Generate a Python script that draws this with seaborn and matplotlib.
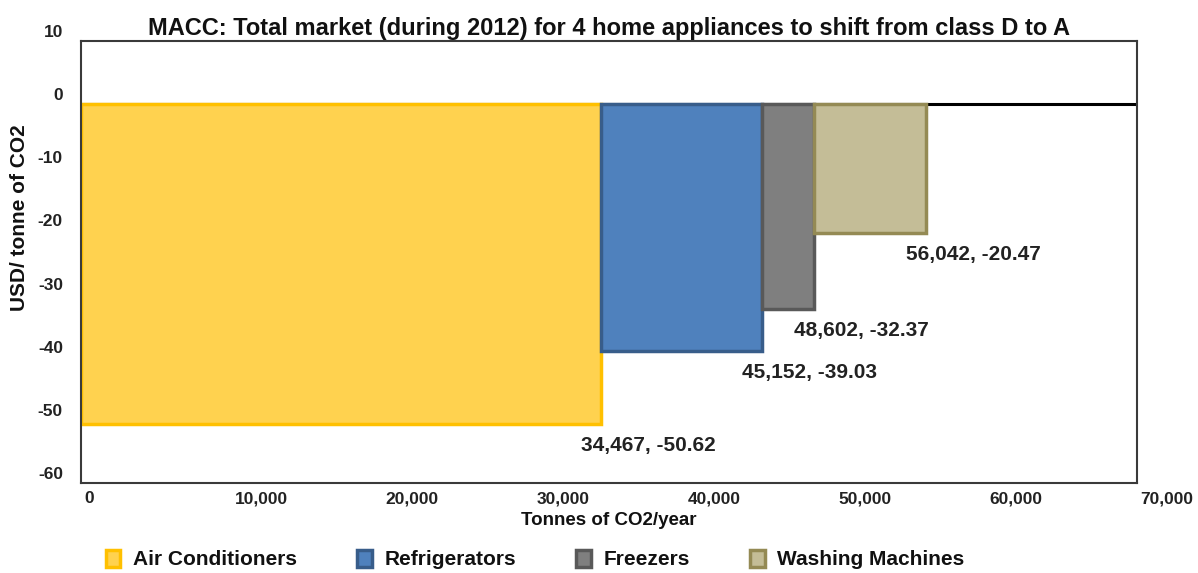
import matplotlib
matplotlib.use("Agg")
import matplotlib.pyplot as plt
from matplotlib.transforms import ScaledTranslation
import seaborn as sns
import numpy as np

categories = ["Air Conditioners", "Refrigerators", "Freezers", "Washing Machines"]
cum_tonnes = [34467, 45152, 48602, 56042]
usd_per_tonne = [-50.62, -39.03, -32.37, -20.47]
fill_colors = ["#FFD24F", "#4F81BD", "#7F7F7F", "#C4BD97"]
edge_colors = ["#FFC000", "#385D8A", "#595959", "#948A54"]
x_ticks = [0, 10000, 20000, 30000, 40000, 50000, 60000, 70000]
y_ticks = [10, 0, -10, -20, -30, -40, -50, -60]

sns.set_theme(style="white")
plt.rcParams['font.family'] = ['Liberation Sans', 'DejaVu Sans']
plt.rcParams['axes.unicode_minus'] = False

fig = plt.figure(figsize=(11.98, 5.73), dpi=100)
ax = fig.add_axes([81 / 1198, 1 - 483 / 573, (1137 - 81) / 1198, 442 / 573])

starts = [0] + cum_tonnes[:-1]
widths = np.diff([0] + cum_tonnes)
ax.axhline(0, color="black", lw=2.2, zorder=1)
for s, w, v, fc, ec, lab in zip(starts, widths, usd_per_tonne, fill_colors, edge_colors, categories):
    ax.bar(s, v, width=w, align="edge", color=fc, edgecolor=ec, linewidth=2.5,
           label=lab, zorder=2)

# data labels sit below-left of each bar's lower-right corner
for x, v in zip(cum_tonnes, usd_per_tonne):
    ax.annotate(f"{x:,}, -{abs(v):.2f}", xy=(x, v), xytext=(-14.4, -15.5),
                textcoords="offset points", ha="left", va="center",
                fontsize=15, fontweight="bold", color="#222222")

ax.set_xlim(0, 70000)
ax.set_ylim(-60, 10)
ax.set_xticks(x_ticks)
ax.set_xticklabels([f"{t:,}" for t in x_ticks])
ax.set_yticks(y_ticks)
ax.tick_params(axis="x", labelsize=12.5, length=0, pad=6, labelcolor="#222222")
ax.tick_params(axis="y", labelsize=12.5, length=0, pad=13, labelcolor="#222222")
for lbl in ax.get_xticklabels():
    lbl.set_fontweight("bold")
    lbl.set_horizontalalignment("left")
    lbl.set_transform(lbl.get_transform() + ScaledTranslation(0.03, 0, fig.dpi_scale_trans))
for lbl in ax.get_yticklabels():
    lbl.set_fontweight("bold")
    lbl.set_transform(lbl.get_transform() + ScaledTranslation(0, 0.10, fig.dpi_scale_trans))

for sp in ax.spines.values():
    sp.set_color("#3A3A3A")
    sp.set_linewidth(1.5)

ax.set_title("MACC: Total market (during 2012) for 4 home appliances to shift from class D to A",
             fontsize=17, fontweight="bold", color="#111111", pad=4)
ax.set_xlabel("Tonnes of CO2/year", fontsize=13.5, fontweight="bold", color="#111111", labelpad=4)
ax.set_ylabel("USD/ tonne of CO2", fontsize=15, fontweight="bold", color="#111111", labelpad=4)
ax.yaxis.set_label_coords(-0.0495, 0.6)

leg = ax.legend(loc="upper center", bbox_to_anchor=(0.43, -0.146), ncol=4, frameon=False,
                fontsize=15, handlelength=0.7, handleheight=0.9, columnspacing=2.9,
                handletextpad=0.6, borderaxespad=0, borderpad=0.1)
for t in leg.get_texts():
    t.set_fontweight("bold")
    t.set_color("#111111")

fig.savefig("out.png", dpi=100)
